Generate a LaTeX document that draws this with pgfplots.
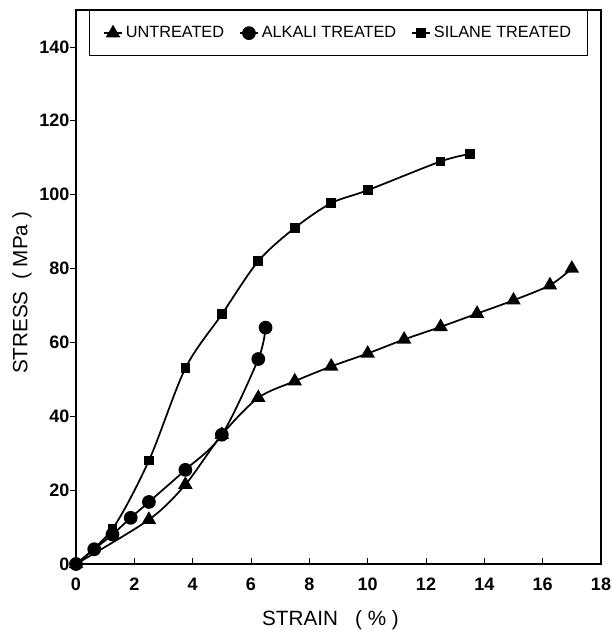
\documentclass[border=0pt]{standalone}
\usepackage{fontspec}
\setmainfont{Liberation Sans}
\usepackage{pgfplots}
\pgfplotsset{compat=1.18}
\begin{document}
\begin{tikzpicture}
\begin{axis}[
  scale only axis, width=393.75pt, height=415.5pt,
  xmin=0, xmax=18, ymin=0, ymax=150,
  xtick={0,2,...,18}, ytick={0,20,...,140},
  tick align=outside, xtick pos=bottom, ytick pos=left,
  major tick length=4.5pt,
  x tick style={yshift=4.5pt},
  axis line style={line width=0.8pt},
  tick style={line width=0.6pt, black},
  /pgf/number format/assume math mode=true,
  ticklabel style={font=\fontsize{13.5}{15}\selectfont\bfseries},
  xticklabel style={yshift=-2.25pt},
  yticklabel style={xshift=3pt},
  xlabel={STRAIN \ \ ( \% )},
  ylabel={STRESS \ ( MPa )},
  every axis x label/.style={at={(rel axis cs:0.5,0)}, anchor=center, yshift=-42pt, xshift=-6pt, font=\fontsize{15.5}{17}\selectfont},
  every axis y label/.style={at={(rel axis cs:0,0.5)}, xshift=-40.5pt, yshift=-4.5pt, rotate=90, anchor=center, font=\fontsize{15.5}{17}\selectfont},
  legend style={at={(rel axis cs:0.0248,1)}, anchor=north west, draw=black,
    line width=0.7pt, font=\fontsize{12.2}{14}\selectfont,
    inner xsep=10pt, inner ysep=10pt, legend columns=-1,
    /tikz/every even column/.append style={column sep=9pt}},
  legend image code/.code={\draw[mark repeat=2,mark phase=2] plot coordinates {(0pt,0pt)(7pt,0pt)(14pt,0pt)};},
]
\addplot[black, line width=1.3pt, smooth, mark=triangle*, mark size=5pt, mark options={solid}]
  coordinates {(0,0)(2.5,12)(3.75,21.5)(5,35)(6.25,45)(7.5,49.5)(8.75,53.5)(10,57)(11.25,60.8)(12.5,64.2)(13.75,67.8)(15,71.4)(16.25,75.5)(17,80)};
\addlegendentry{UNTREATED}
\addplot[black, line width=1.3pt, smooth, mark=*, mark size=4.5pt]
  coordinates {(0,0)(0.625,4)(1.25,8)(1.875,12.5)(2.5,16.8)(3.75,25.5)(5,35)(6.25,55.5)(6.5,64)};
\addlegendentry{ALKALI TREATED}
\addplot[black, line width=1.3pt, smooth, mark=square*, mark size=3pt]
  coordinates {(0,0)(1.25,9.5)(2.5,28)(3.75,53)(5,67.6)(6.25,82)(7.5,91)(8.75,97.7)(10,101.2)(12.5,109)(13.5,111)};
\addlegendentry{SILANE TREATED}
\end{axis}
\pgfresetboundingbox
\useasboundingbox ([xshift=-57pt,yshift=-50.25pt]current axis.south west) rectangle ([xshift=7.5pt,yshift=7.5pt]current axis.north east);
\end{tikzpicture}
\end{document}
